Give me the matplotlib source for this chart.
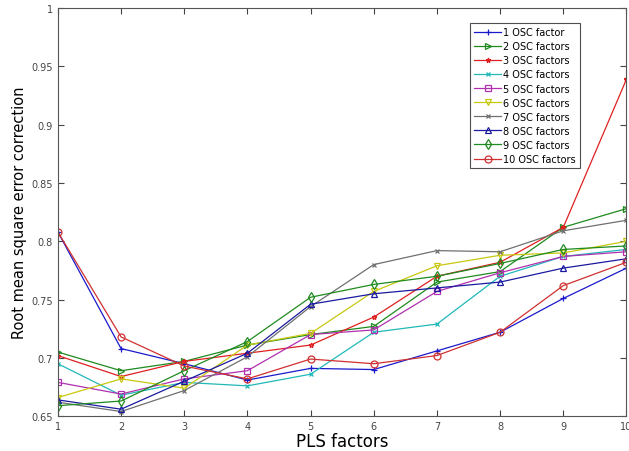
import numpy as np
import matplotlib
matplotlib.use('Agg')
import matplotlib.pyplot as plt

# PLS factors on x axis
pls = [1, 2, 3, 4, 5, 6, 7, 8, 9, 10]

osc1 = [0.808, 0.708, 0.695, 0.681, 0.691, 0.690, 0.706, 0.722, 0.751, 0.777]
osc2 = [0.705, 0.689, 0.697, 0.711, 0.720, 0.727, 0.765, 0.774, 0.812, 0.828]
osc3 = [0.702, 0.684, 0.697, 0.704, 0.711, 0.735, 0.770, 0.782, 0.812, 0.939]
osc4 = [0.695, 0.668, 0.679, 0.676, 0.686, 0.722, 0.729, 0.770, 0.787, 0.793]
osc5 = [0.679, 0.669, 0.682, 0.689, 0.720, 0.724, 0.757, 0.773, 0.787, 0.791]
osc6 = [0.666, 0.682, 0.674, 0.711, 0.721, 0.757, 0.779, 0.788, 0.790, 0.800]
osc7 = [0.662, 0.654, 0.672, 0.701, 0.744, 0.780, 0.792, 0.791, 0.809, 0.818]
osc8 = [0.664, 0.656, 0.680, 0.704, 0.746, 0.755, 0.760, 0.765, 0.777, 0.785]
osc9 = [0.659, 0.663, 0.689, 0.714, 0.752, 0.763, 0.770, 0.781, 0.793, 0.796]
osc10 = [0.808, 0.718, 0.693, 0.682, 0.699, 0.695, 0.702, 0.722, 0.762, 0.782]

series = [osc1, osc2, osc3, osc4, osc5, osc6, osc7, osc8, osc9, osc10]
labels = ['1 OSC factor'] + ['%d OSC factors' % k for k in range(2, 11)]
colors = ['#1a1acc', '#1f8a1f', '#e02020', '#20b8b8', '#b030b0',
          '#c8c810', '#707070', '#1a1aa0', '#1f8a1f', '#d03030']
markers = ['+', '>', '*', 'x', 's', 'v', 'x', '^', 'd', 'o']

fig = plt.figure(figsize=(6.29, 4.52), dpi=100)
ax = fig.add_axes([0.092, 0.077, 0.904, 0.903])

for y, lab, c, m in zip(series, labels, colors, markers):
    ms = 3.5 if m in ('x', '*') else 5
    ax.plot(pls, y, color=c, marker=m, markersize=ms, markerfacecolor='none',
            markeredgecolor=c, markeredgewidth=0.9, lw=0.9, label=lab)

ax.set_xlim(1, 10)
ax.set_ylim(0.65, 1)
ax.set_xticks(pls)
ax.set_yticks([0.65, 0.7, 0.75, 0.8, 0.85, 0.9, 0.95, 1.0])
ax.set_yticklabels(['0.65', '0.7', '0.75', '0.8', '0.85', '0.9', '0.95', '1'])
ax.tick_params(direction='in', top=True, right=True, labelsize=7,
               colors='#444444', length=4)
for s in ax.spines.values():
    s.set_color('#555555')

ax.set_xlabel('PLS factors', fontsize=12, labelpad=1)
ax.set_ylabel('Root mean square error correction', fontsize=10.5, labelpad=3)

leg = ax.legend(loc='upper left', bbox_to_anchor=(465/629, 1 - 19/452),
                bbox_transform=fig.transFigure, fontsize=7, frameon=True,
                fancybox=False, handlelength=2.8, labelspacing=0.42,
                borderpad=0.45, handletextpad=0.2)
leg.get_frame().set_edgecolor('#222222')
leg.get_frame().set_linewidth(0.8)

plt.savefig('out.png', dpi=100)
